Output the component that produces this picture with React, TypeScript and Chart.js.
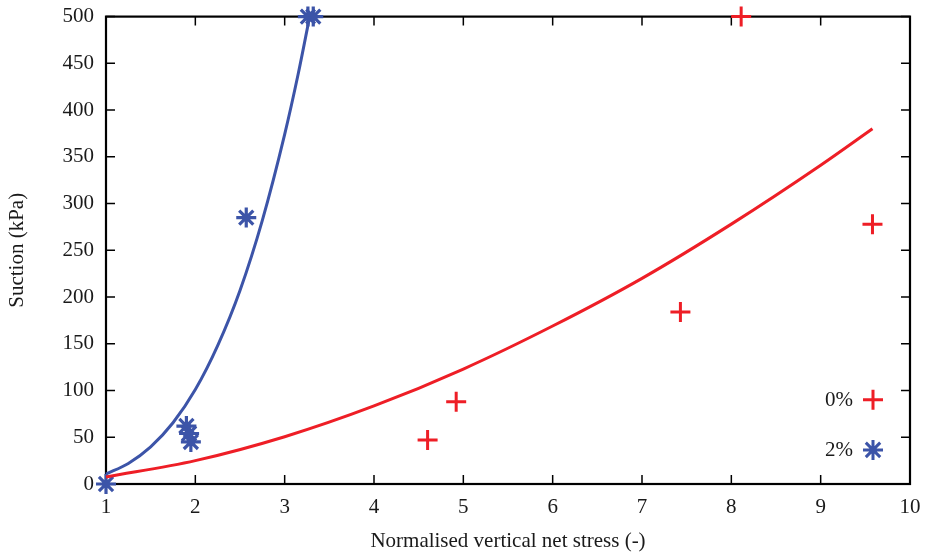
import React, { useEffect, useRef } from 'react';
import { Chart, registerables } from 'chart.js';

Chart.register(...registerables);

// Axis ticks
const xTickValues = [1, 2, 3, 4, 5, 6, 7, 8, 9, 10];
const yTickValues = [0, 50, 100, 150, 200, 250, 300, 350, 400, 450, 500];

// Measured points, 0 %
const pts0X = [4.6, 4.92, 7.43, 9.58, 8.11];
const pts0Y = [47, 88, 184, 278, 500];

// Measured points, 2 %
const pts2X = [1, 1.9, 1.93, 1.95, 2.57, 3.26, 3.32];
const pts2Y = [0, 62, 54, 45, 285, 500, 500];

// Fitted curve, 0 %
const fit0X = [1, 2, 3, 4, 5, 6, 7, 8, 9, 9.58];
const fit0Y = [7.5, 25, 50.6, 83.5, 123, 169, 220, 278, 341, 380];

// Fitted curve, 2 %
const fit2X = [1, 1.25, 1.5, 1.75, 2, 2.25, 2.5, 2.75, 3, 3.15, 3.28];
const fit2Y = [10.7, 22, 39.7, 65.5, 101, 148, 207, 282, 374, 438, 500];

const RED = 'rgb(238, 30, 38)';
const BLUE = 'rgb(60, 84, 168)';
const TEXT = '#1a1a1a';
const FONT = 'Liberation Serif';
const FSIZE = 21;

const zip = (xs: number[], ys: number[]) => xs.map((x, i) => ({ x, y: ys[i] }));

const framePlugin = {
  id: 'frameTicks',
  beforeDatasetsDraw(chart: any) {
    const { ctx, chartArea, scales } = chart;
    const { left, right, top, bottom } = chartArea;
    const len = 9;
    ctx.save();
    ctx.strokeStyle = '#000';
    ctx.lineWidth = 1.5;
    ctx.beginPath();
    for (const v of yTickValues) {
      const py = scales.y.getPixelForValue(v);
      ctx.moveTo(left, py);
      ctx.lineTo(left + len, py);
      ctx.moveTo(right, py);
      ctx.lineTo(right - len, py);
    }
    for (const v of xTickValues) {
      const px = scales.x.getPixelForValue(v);
      ctx.moveTo(px, bottom);
      ctx.lineTo(px, bottom - len);
      ctx.moveTo(px, top);
      ctx.lineTo(px, top + len);
    }
    ctx.stroke();
    ctx.lineWidth = 2.2;
    ctx.strokeRect(left, top, right - left, bottom - top);
    ctx.restore();
  },
};

const legendPlugin = {
  id: 'customLegend',
  afterDatasetsDraw(chart: any) {
    const { ctx, chartArea, scales } = chart;
    const items = chart.data.datasets.filter((d: any) => d.showInLegend);
    const symX = chartArea.right - 37;
    const textRight = symX - 20;
    const y0 = scales.y.getPixelForValue(0);
    const y50 = scales.y.getPixelForValue(50);
    const step = y0 - y50;
    ctx.save();
    items.forEach((d: any, i: number) => {
      const cy = y0 - step * 1.8 + i * step * 1.07;
      ctx.fillStyle = TEXT;
      ctx.font = `${FSIZE}px "${FONT}"`;
      ctx.textAlign = 'right';
      ctx.textBaseline = 'middle';
      ctx.fillText(d.label, textRight, cy + 1);
      ctx.strokeStyle = d.borderColor;
      ctx.lineWidth = 3;
      const r = 10;
      ctx.beginPath();
      ctx.moveTo(symX - r, cy);
      ctx.lineTo(symX + r, cy);
      ctx.moveTo(symX, cy - r);
      ctx.lineTo(symX, cy + r);
      if (d.pointStyle === 'star') {
        const k = r * 0.72;
        ctx.moveTo(symX - k, cy - k);
        ctx.lineTo(symX + k, cy + k);
        ctx.moveTo(symX - k, cy + k);
        ctx.lineTo(symX + k, cy - k);
      }
      ctx.stroke();
    });
    ctx.restore();
  },
};

export default function App() {
  const ref = useRef<HTMLCanvasElement | null>(null);

  useEffect(() => {
    if (!ref.current) return;
    const chart = new Chart(ref.current, {
      type: 'scatter',
      data: {
        datasets: [
          {
            type: 'line',
            label: 'fit 0%',
            data: zip(fit0X, fit0Y),
            borderColor: RED,
            borderWidth: 3,
            pointRadius: 0,
            cubicInterpolationMode: 'monotone',
            fill: false,
            clip: false,
          } as any,
          {
            type: 'line',
            label: 'fit 2%',
            data: zip(fit2X, fit2Y),
            borderColor: BLUE,
            borderWidth: 3,
            pointRadius: 0,
            cubicInterpolationMode: 'monotone',
            fill: false,
            clip: false,
          } as any,
          {
            label: '0%',
            showInLegend: true,
            data: zip(pts0X, pts0Y),
            pointStyle: 'cross',
            pointRadius: 10,
            borderColor: RED,
            backgroundColor: RED,
            borderWidth: 3,
            clip: false,
          } as any,
          {
            label: '2%',
            showInLegend: true,
            data: zip(pts2X, pts2Y),
            pointStyle: 'star',
            pointRadius: 10,
            borderColor: BLUE,
            backgroundColor: BLUE,
            borderWidth: 3.2,
            clip: false,
          } as any,
        ],
      },
      options: {
        responsive: false,
        animation: false,
        layout: { padding: { top: 7, right: 16, left: 0, bottom: 0 } },
        plugins: {
          legend: { display: false },
          tooltip: { enabled: false },
        },
        scales: {
          x: {
            type: 'linear',
            min: 1,
            max: 10,
            grid: { display: false },
            border: { display: false },
            afterFit: (s: any) => { s.height = 72; },
            afterBuildTicks: (s: any) => { s.ticks = xTickValues.map((v) => ({ value: v })); },
            ticks: {
              padding: 3,
              color: TEXT,
              font: { family: FONT, size: FSIZE },
              maxRotation: 0,
            },
            title: {
              display: true,
              text: 'Normalised vertical net stress (-)',
              color: TEXT,
              font: { family: FONT, size: FSIZE },
              padding: { top: 0, bottom: 2 },
            },
          },
          y: {
            type: 'linear',
            min: 0,
            max: 500,
            grid: { display: false },
            border: { display: false },
            afterFit: (s: any) => { s.width = 106; },
            afterBuildTicks: (s: any) => { s.ticks = yTickValues.map((v) => ({ value: v })); },
            ticks: {
              padding: 4,
              color: TEXT,
              font: { family: FONT, size: FSIZE },
            },
            title: {
              display: true,
              text: 'Suction (kPa)',
              color: TEXT,
              font: { family: FONT, size: FSIZE },
              padding: { top: 5, bottom: 0 },
            },
          },
        },
      },
      plugins: [framePlugin, legendPlugin],
    } as any);
    return () => chart.destroy();
  }, []);

  return (
    <div style={{ position: 'absolute', left: 0, top: 0, width: 926, height: 556, background: '#fff' }}>
      <canvas ref={ref} width={926} height={556} style={{ display: 'block' }} />
    </div>
  );
}
